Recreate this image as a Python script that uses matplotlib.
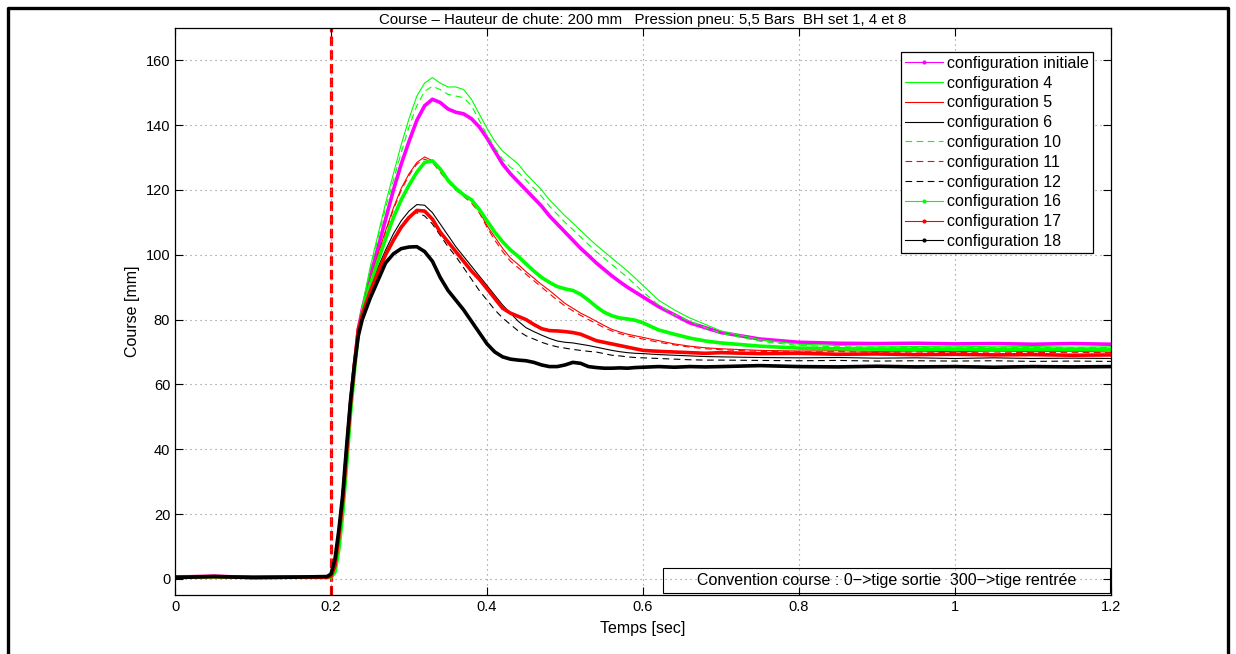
import matplotlib
matplotlib.use('Agg')
import matplotlib.pyplot as plt
from matplotlib.lines import Line2D
from matplotlib.patches import Rectangle

plt.rcParams['font.family'] = ['Liberation Sans', 'DejaVu Sans']

# temps [sec]
t = [0, 0.05, 0.1, 0.15, 0.195,
     0.2, 0.205, 0.21, 0.215, 0.22, 0.225, 0.23, 0.235,
     0.24, 0.25, 0.26, 0.27, 0.28, 0.29, 0.30, 0.31, 0.32, 0.33,
     0.34, 0.35, 0.36, 0.37, 0.38, 0.39, 0.40, 0.41, 0.42, 0.43,
     0.44, 0.45, 0.46, 0.47, 0.48, 0.49, 0.50, 0.51, 0.52, 0.53,
     0.54, 0.55, 0.56, 0.57, 0.58, 0.59, 0.60,
     0.62, 0.64, 0.66, 0.68, 0.70,
     0.75, 0.80, 0.85, 0.90, 0.95, 1.00, 1.05, 1.10, 1.15, 1.20]

# course [mm]
c_init = [0.5, 0.8, 0.4, 0.5, 0.6,
          0.8, 4, 13, 24, 39, 54, 66, 77,
          83, 93, 102, 111, 120, 128, 135, 141.5, 146, 148,
          147, 145, 144, 143.5, 142, 139.5, 136, 132, 128, 125,
          122.5, 120, 117.5, 115, 112, 109.5, 107, 104.5, 102, 99.8,
          97.5, 95.5, 93.5, 91.7, 90, 88.5, 87,
          84, 81.5, 79, 77.5, 76,
          74, 73, 72.7, 72.6, 72.7, 72.5, 72.6, 72.4, 72.6, 72.4]
c_4 = [0.6, 0.7, 0.5, 0.4, 0.5,
       0.5, 2, 9, 20, 35, 51, 64, 76,
       84, 96, 106, 116, 125, 134, 142, 149, 153, 154.7,
       153, 151.8, 151.8, 151, 148, 143.5, 139, 135, 132, 130,
       128, 125, 122.5, 120, 117, 114.5, 112, 109.8, 107.5, 105.2,
       103, 101, 99, 97, 95, 92.8, 90.5,
       86, 83, 80.5, 78.5, 76.5,
       73.8, 72.4, 72, 71.8, 71.7, 71.8, 71.6, 71.7, 71.5, 71.6]
c_5 = [0.4, 0.7, 0.5, 0.5, 0.6,
       0.8, 4, 13, 24, 39, 54, 66, 77,
       83, 92, 100, 107.5, 114.5, 120.5, 125, 128.5, 130.2, 129,
       126, 123, 120.5, 118.5, 117, 113.5, 109, 105.5, 102, 99,
       97, 94.8, 92.8, 90.8, 89, 87, 85, 83.5, 82, 80.8,
       79.5, 78.2, 77, 76.2, 75.5, 75, 74.5,
       73.5, 72.5, 71.8, 71.3, 71,
       70.5, 70.3, 70.4, 70.2, 70.3, 70.1, 70.3, 70.1, 70.2, 70]
c_6 = [0.5, 0.8, 0.5, 0.4, 0.6,
       0.8, 4, 13, 24, 39, 54, 66, 77,
       82, 89.5, 96, 101.5, 106.5, 110.5, 113.5, 115.5, 115.3, 113,
       109.5, 106, 102.5, 99.5, 96.5, 93.5, 90.5, 87.5, 84.5, 82,
       79.5, 77.5, 76.3, 75.2, 74.2, 73.4, 73, 72.8, 72.4, 72,
       71.5, 71, 70.5, 70.1, 69.8, 69.6, 69.5,
       69.2, 69, 68.8, 68.6, 68.5,
       68.3, 68.2, 68.3, 68.1, 68.2, 68, 68.2, 68, 68.1, 68]
c_10 = [0.6, 0.8, 0.4, 0.5, 0.5,
        0.5, 2, 9, 20, 35, 51, 64, 76,
        83, 95, 105, 114.5, 123, 131.5, 139.5, 146, 150.5, 152,
        151, 149.5, 149, 148.5, 146, 141.5, 137, 133, 129.5, 127,
        125.5, 123, 120.5, 118, 115, 112.5, 110, 107.8, 105.5, 103.2,
        101, 99, 97, 95, 93, 90.8, 88.5,
        84.5, 81.5, 79.5, 77.5, 75.8,
        73.3, 72, 71.6, 71.5, 71.4, 71.5, 71.3, 71.4, 71.3, 71.4]
c_11 = [0.5, 0.7, 0.6, 0.5, 0.5,
        0.8, 4, 13, 24, 39, 54, 66, 77,
        82.5, 91.5, 99.5, 107, 114, 120, 124.5, 128, 129.5, 128.5,
        125.5, 122.5, 120, 118, 116, 113, 108.5, 104.5, 101, 98,
        96, 94, 92, 90, 88, 86, 84.2, 82.7, 81.3, 80,
        78.8, 77.5, 76.5, 75.7, 75, 74.5, 74,
        73, 72.2, 71.5, 71, 70.7,
        70.2, 70, 70.1, 69.9, 70, 69.8, 70, 69.8, 69.9, 69.8]
c_12 = [0.4, 0.8, 0.5, 0.5, 0.6,
        0.8, 4, 13, 24, 39, 54, 66, 77,
        82, 89, 95, 100.5, 105, 109, 112, 113, 112, 109.5,
        106, 102.5, 99.5, 96, 92.5, 89, 86, 83, 80.5, 78.5,
        76.5, 75, 74, 73, 72.2, 71.6, 71.2, 70.8, 70.5, 70.2,
        70, 69.5, 69, 68.8, 68.5, 68.3, 68.2,
        68, 67.8, 67.6, 67.5, 67.5,
        67.4, 67.3, 67.4, 67.2, 67.3, 67.2, 67.3, 67.1, 67.2, 67.1]
c_16 = [0.5, 0.6, 0.4, 0.5, 0.4,
        0.5, 2, 9, 20, 35, 51, 64, 76,
        82, 90.5, 98, 105, 111.5, 117, 121.5, 125.5, 128.5, 129,
        126.5, 123, 120.5, 118.5, 117, 114, 110.5, 107, 104, 101.5,
        99.5, 97.2, 95, 93, 91.5, 90.2, 89.5, 89, 87.8, 86,
        84, 82.3, 81.2, 80.5, 80.2, 79.8, 79,
        76.8, 75.5, 74.3, 73.4, 72.8,
        71.8, 71.2, 71, 70.9, 70.8, 70.9, 70.7, 70.8, 70.7, 70.8]
c_17 = [0.6, 0.7, 0.5, 0.6, 0.5,
        0.8, 4, 13, 24, 39, 54, 66, 77,
        81.5, 88.5, 94.5, 100, 104.5, 108.5, 111.5, 113.7, 113.5, 111,
        107, 104, 101, 98, 95, 92.5, 89.5, 86.5, 83.5, 82,
        81, 80, 78.5, 77.2, 76.6, 76.5, 76.3, 76, 75.5, 74.5,
        73.5, 73, 72.5, 72, 71.5, 71, 70.5,
        70.2, 70, 69.8, 69.6, 69.8,
        69.5, 69.6, 69.3, 69.4, 69.2, 69.3, 69.1, 69.2, 69, 69.1]
c_18 = [0.4, 0.7, 0.4, 0.5, 0.7,
        1.5, 6, 15, 26, 41, 55, 66, 75,
        80, 86.5, 92, 97.5, 100.3, 101.9, 102.4, 102.5, 101, 98,
        93, 89, 86, 83, 79.5, 76, 72.5, 70, 68.5, 67.8,
        67.5, 67.3, 66.8, 66, 65.5, 65.5, 66, 66.8, 66.5, 65.5,
        65.2, 65, 65, 65.1, 65, 65.2, 65.3,
        65.5, 65.3, 65.5, 65.4, 65.5,
        65.8, 65.5, 65.4, 65.6, 65.4, 65.5, 65.3, 65.5, 65.4, 65.5]

labels = ['configuration initiale', 'configuration 4', 'configuration 5',
          'configuration 6', 'configuration 10', 'configuration 11',
          'configuration 12', 'configuration 16', 'configuration 17',
          'configuration 18']
series = [c_init, c_4, c_5, c_6, c_10, c_11, c_12, c_16, c_17, c_18]
colors = ['#ff00ff', '#00ff00', '#ff0000', 'black', '#00ff00', '#ff0000',
          'black', '#00ff00', '#ff0000', 'black']
styles = ['-', '-', '-', '-', '--', '--', '--', '-', '-', '-']
thick = [True, False, False, False, False, False, False, True, True, True]

fig = plt.figure(figsize=(12.36, 6.54), dpi=100)
ax = fig.add_axes([0.1416, 0.0902, 0.7573, 0.867])

# cadre autour de la figure
fig.add_artist(Line2D([8 / 1236, 8 / 1236, 1228 / 1236, 1228 / 1236],
                      [0, 1 - 7.5 / 654, 1 - 7.5 / 654, 0],
                      transform=fig.transFigure, color='black', lw=2.4))

ax.axvline(0.2, color='#ff0000', lw=2.3, ls=(0, (3, 1.3)), zorder=1)

handles = []
for y, col, ls, th, lab in zip(series, colors, styles, thick, labels):
    if ls == '--':
        ls = (0, (6, 4))
    ax.plot(t, y, color=col, ls=ls, lw=2.6 if th else 0.8, zorder=2)
    handles.append(Line2D([], [], color=col, ls=ls, lw=0.8,
                          marker='.' if th else None, markersize=4))

ax.set_xlim(0, 1.2)
ax.set_ylim(-5, 170)
ax.set_xticks([0, 0.2, 0.4, 0.6, 0.8, 1.0, 1.2])
ax.set_xticklabels(['0', '0.2', '0.4', '0.6', '0.8', '1', '1.2'])
ax.set_yticks(range(0, 161, 20))
ax.tick_params(direction='in', top=True, right=True, length=6, width=0.8,
               labelsize=10.5)
for s in ax.spines.values():
    s.set_linewidth(0.9)
ax.grid(True, color='#888888', ls=(0, (1, 3.5)), lw=0.8)

ax.set_xlabel('Temps [sec]', fontsize=11.5, labelpad=5)
ax.set_ylabel('Course [mm]', fontsize=11.5, labelpad=4)
ax.set_title('Course – Hauteur de chute: 200 mm   Pression pneu: 5,5 Bars  BH set 1, 4 et 8',
             fontsize=10.8, pad=3)

leg = ax.legend(handles, labels, loc='upper right',
                bbox_to_anchor=(0.981, 0.958), borderaxespad=0,
                fontsize=11.5, handlelength=2.4, handletextpad=0.25,
                labelspacing=0.3, borderpad=0.25, fancybox=False,
                framealpha=1, edgecolor='black')
leg.get_frame().set_linewidth(0.9)

ax.add_patch(Rectangle((0.521, 0.004), 0.478, 0.043, transform=ax.transAxes,
                       fill=False, edgecolor='black', lw=0.8, zorder=5))
ax.text(0.76, 0.026, 'Convention course : 0−>tige sortie  300−>tige rentrée',
        transform=ax.transAxes, ha='center', va='center', fontsize=11.5,
        zorder=6)

fig.savefig('out.png', dpi=100)
